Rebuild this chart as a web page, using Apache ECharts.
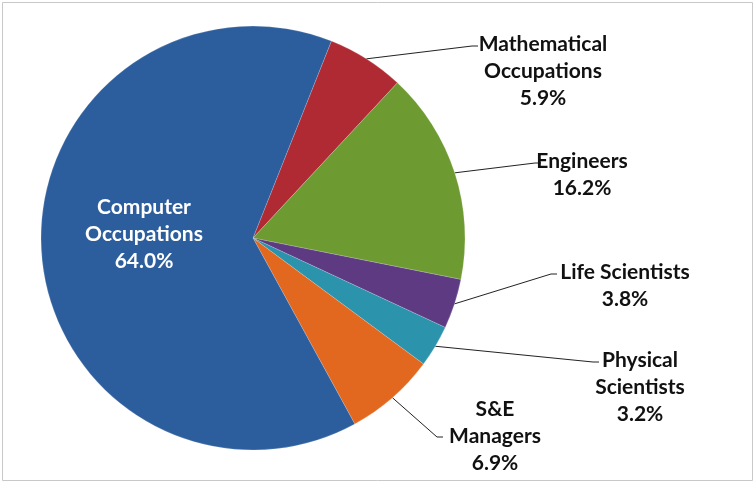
<!DOCTYPE html>
<html>
<head>
<meta charset="utf-8">
<script src="https://cdn.jsdelivr.net/npm/echarts@6/dist/echarts.min.js"></script>
<style>
  html, body { margin: 0; padding: 0; background: #fff; }
  #main { width: 756px; height: 484px; }
</style>
</head>
<body>
<div id="main"></div>
<script>
// 数据（顺时针，从 Mathematical 开始）
var categories = ['Mathematical\nOccupations', 'Engineers', 'Life Scientists', 'Physical\nScientists', 'S&E\nManagers', 'Computer\nOccupations'];
var shares = [5.9, 16.2, 3.8, 3.2, 6.9, 64.0];
var colors = ['#b02a33', '#6e9a32', '#5e3a83', '#2c93ac', '#e2681f', '#2c5d9c'];

// 标签位置：中心 x，首行顶部 y，引线终点 (ex, ey)
var labelPos = [
  { x: 543, y: 31, ex: 478, ey: 46 },
  { x: 582, y: 148, ex: 541, ey: 163 },
  { x: 625, y: 259, ex: 557, ey: 274 },
  { x: 640, y: 347, ex: 599, ey: 362 },
  { x: 495, y: 396, ex: 443, ey: 437 },
  { x: 144, y: 194 }
];

var myChart = echarts.init(document.getElementById('main'));

var pieData = categories.map(function (name, i) {
  var item = { name: name, value: shares[i], itemStyle: { color: colors[i] } };
  if (i === 5) {
    item.label = { position: 'inside', color: '#fff' };
    item.labelLine = { show: false };
  }
  return item;
});

var option = {
  backgroundColor: '#fff',
  animation: false,
  graphic: [{
    type: 'rect',
    shape: { x: 2.5, y: 2.5, width: 750, height: 478 },
    style: { fill: 'none', stroke: '#c8c8c8', lineWidth: 1 }
  }],
  series: [{
    type: 'pie',
    center: [253, 238],
    radius: 212,
    startAngle: 68.3,
    clockwise: true,
    data: pieData,
    itemStyle: { borderColor: 'rgba(255,255,255,0.35)', borderWidth: 0.5 },
    label: {
      show: true,
      position: 'outside',
      formatter: function (p) { return p.name + '\n' + p.value.toFixed(1) + '%'; },
      fontFamily: 'Lato',
      fontWeight: 'bold',
      fontSize: 21,
      lineHeight: 27,
      color: '#111',
      align: 'center'
    },
    labelLine: {
      show: true,
      lineStyle: { color: '#222', width: 1 }
    },
    labelLayout: function (params) {
      var p = labelPos[params.dataIndex];
      var out = { x: p.x, y: p.y, align: 'center', verticalAlign: 'top' };
      if (p.ex != null && params.labelLinePoints) {
        var s = params.labelLinePoints[0];
        out.labelLinePoints = [s, [p.ex - 6, p.ey], [p.ex, p.ey]];
      }
      return out;
    },
    emphasis: { disabled: true }
  }]
};

myChart.setOption(option);
</script>
</body>
</html>
